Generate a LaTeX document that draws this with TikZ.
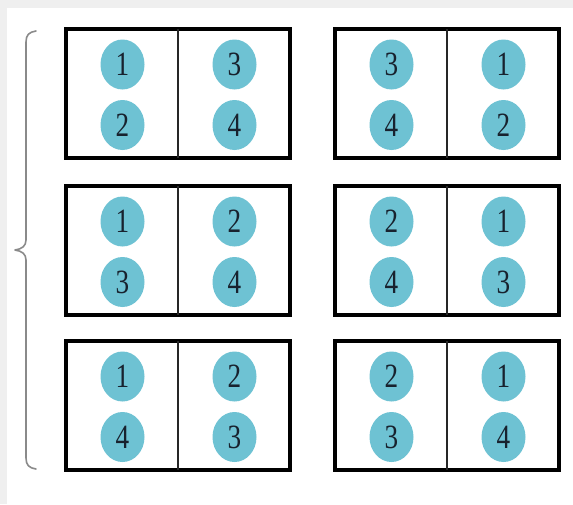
\documentclass[tikz,border=0pt]{standalone}
\usepackage{fontspec}
\setmainfont{Liberation Serif}
\usetikzlibrary{shapes.geometric}
\definecolor{bandgray}{HTML}{EFEFEF}
\definecolor{dotblue}{HTML}{6EC2D3}
\definecolor{digit}{HTML}{18222E}
\definecolor{bracegray}{HTML}{8A8A8A}
\newcommand{\dg}[1]{\scalebox{0.8}[1]{#1}}
\begin{document}
\begin{tikzpicture}[x=1pt,y=-1pt,
  frame/.style={draw=black,line width=3.2pt,minimum width=224pt,minimum height=129pt,inner sep=0pt,outer sep=0pt},
  divider/.style={draw=black!85,line width=1.5pt},
  dot/.style={ellipse,fill=dotblue,minimum width=44pt,minimum height=50pt,inner sep=0pt,text=digit,font=\fontsize{34}{34}\selectfont},
  bracket/.style={draw=bracegray,line width=1.6pt,line cap=round,line join=round}]
\fill[white] (0,0) rectangle (573,504);
\useasboundingbox (0,0) rectangle (573,504);
\fill[bandgray] (0,0) rectangle (573,8);
\fill[bandgray] (0,0) rectangle (7,504);
% brace
\draw[bracket] (36,31) .. controls (29,32) and (26,35) .. (26,42) -- (26,240)
  .. controls (26,246) and (22,249) .. (15,250)
  .. controls (22,251) and (26,254) .. (26,260) -- (26,458)
  .. controls (26,465) and (29,468) .. (36,469);
% boxes: row centers
\foreach \r/\cy in {1/93.5,2/250.5,3/405.5}{
  \node[frame] (L\r) at (178,\cy) {};
  \node[frame] (R\r) at (447,\cy) {};
  \draw[divider] (L\r.north) -- (L\r.south);
  \draw[divider] (R\r.north) -- (R\r.south);
}
% digits: name/x/y/label
\foreach \n/\x/\y/\t in {
  a1/122.5/64.5/1, a2/122.5/125/2, a3/234.5/64.5/3, a4/234.5/125/4,
  a5/391.5/64.5/3, a6/391.5/125/4, a7/503.5/64.5/1, a8/503.5/125/2,
  b1/122.5/221.5/1, b2/122.5/282/3, b3/234.5/221.5/2, b4/234.5/282/4,
  b5/391.5/221.5/2, b6/391.5/282/4, b7/503.5/221.5/1, b8/503.5/282/3,
  c1/122.5/376.5/1, c2/122.5/437/4, c3/234.5/376.5/2, c4/234.5/437/3,
  c5/391.5/376.5/2, c6/391.5/437/3, c7/503.5/376.5/1, c8/503.5/437/4}{
  \node[dot] (\n) at (\x,\y) {\dg{\t}};
}
\end{tikzpicture}
\end{document}
